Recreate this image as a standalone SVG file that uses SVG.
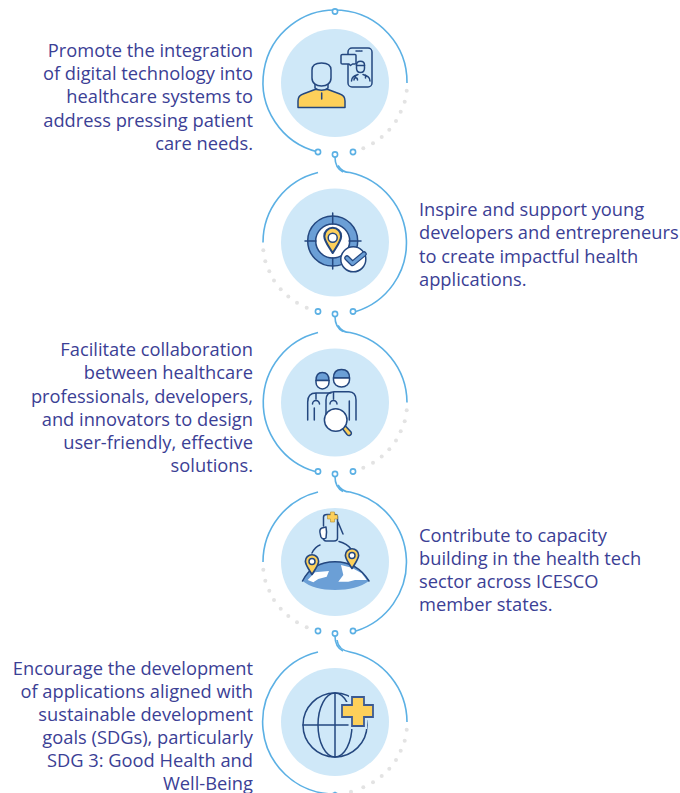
<svg xmlns="http://www.w3.org/2000/svg" xmlns:xlink="http://www.w3.org/1999/xlink" width="680" height="793" viewBox="0 0 680 793">
<style>
text{font-family:"Open Sans","Noto Sans",sans-serif;font-size:18.3px;fill:#3b4095}
.l{text-anchor:end}
.ring{fill:none;stroke:#5bb0e4;stroke-width:1.6}
.open{fill:#fff;stroke:#5bb0e4;stroke-width:1.6}
.disc{fill:#cfe8f8}
.d{fill:#e3e3e3}
.i{stroke:#24477f;stroke-width:1.5;stroke-linecap:round;stroke-linejoin:round;fill:none}
.w{fill:#fff}.b{fill:#6b9fd6}.y{fill:#fdd05a}.p{fill:#cfe8f8}
</style>
<defs>
<g id="dots"><circle class="d" cx="71.7" cy="7.7" r="2"/><circle class="d" cx="69.7" cy="18.7" r="2"/><circle class="d" cx="65.7" cy="28.7" r="2"/><circle class="d" cx="61" cy="38" r="2"/><circle class="d" cx="54.3" cy="46.7" r="2"/><circle class="d" cx="46.7" cy="54" r="2"/><circle class="d" cx="38" cy="60.3" r="2"/><circle class="d" cx="28.3" cy="65.3" r="2"/></g>
<g id="ends"><circle class="open" cx="-17" cy="69" r="2.6"/><circle class="open" cx="0" cy="71.5" r="2.6"/><circle class="open" cx="18" cy="69" r="2.6"/></g>
<path id="pin" d="M0,0C-3,-5 -6,-8.500 -6,-12A6,6 0 0 1 6,-12C6,-8.500 3,-5 0,0Z"/>
</defs>
<g id="connectors">
<g transform="translate(335,83)"><path class="ring" d="M-17,69A72,72 0 1 1 72,0"/><use href="#dots"/><use href="#ends"/><circle class="open" cx="0" cy="-71.500" r="2.600"/><path class="ring" d="M0,74C0,82 4,87 8,89"/></g>
<g transform="translate(335,242.500)"><path class="ring" d="M-17,-70A72,72 0 0 0 -72,0"/><path class="ring" d="M3,-77C6,-72 10,-70 15,-70A72,72 0 0 1 21,69"/><use href="#dots" transform="scale(-1,1)"/><use href="#ends"/><path class="ring" d="M0,74C0,82 4,87 8,89"/></g>
<g transform="translate(335,402.500)"><path class="ring" d="M-17,-70A72,72 0 0 0 -20,69"/><path class="ring" d="M3,-77C6,-72 10,-70 15,-70A72,72 0 0 1 72,0"/><use href="#dots"/><use href="#ends"/><path class="ring" d="M0,74C0,82 4,87 8,89"/></g>
<g transform="translate(335,562)"><path class="ring" d="M-17,-70A72,72 0 0 0 -72,0"/><path class="ring" d="M3,-77C6,-72 10,-70 15,-70A72,72 0 0 1 21,69"/><use href="#dots" transform="scale(-1,1)"/><use href="#ends"/><path class="ring" d="M0,74C0,82 4,87 8,89"/></g>
<g transform="translate(335,722)"><path class="ring" d="M-17,-70A72,72 0 0 0 -3,72L0,70.500L3,72"/><path class="ring" d="M2,-82C3,-74 9,-71 15,-70A72,72 0 0 1 72,0"/><use href="#dots"/><circle class="d" cx="16" cy="69.700" r="2"/></g>
</g>
<g id="node1"><circle class="disc" cx="335" cy="83" r="54"/>
<path class="i y" d="M298,107.500V101C298,97 300,95 303,94L315,89.500H328L340,94C343,95 345,97 345,101V107.500Z"/>
<path class="i" d="M321.700,93V99"/>
<path class="i p" d="M315,83V88C318,91 325,91 328,88V83Z"/>
<path class="i p" d="M312,70C312,65 316,63 321.500,63C327,63 331,65 331,70V78C331,83 327,86 321.500,86C316,86 312,83 312,78Z"/>
<rect class="i p" x="348" y="48" width="24" height="39" rx="4"/>
<path class="i" d="M356,51H362" stroke-dasharray="1.500 1" stroke-width="1"/>
<path class="i p" d="M342.500,54.500H355C355.500,54.500 356,55 356,55.500V63C356,63.500 355.500,64 355,64H352.500L350.500,65.500L349,64H342.500C342,64 341,63.500 341,63V55.500C341,55 342,54.500 342.500,54.500Z"/>
<path class="i" d="M356.500,65C356.500,60 364.500,60 364.500,65V68C364.500,74 356.500,74 356.500,68ZM356.300,65.500H364.700" stroke-width="1.200"/>
<path class="i" d="M351.500,81C351.500,77 354,76 358,74.500M370,81C370,77 367.500,76 363,74.500M355.500,75.500V77M354,80C354,77 357.500,77 357.500,80M365.500,75V78" stroke-width="1.200"/>
</g>
<g id="node2"><circle class="disc" cx="335" cy="242.500" r="54"/>
<circle class="i b" cx="332.700" cy="241" r="25"/><circle class="i w" cx="332.700" cy="241" r="17"/>
<path class="i" d="M332.700,213V224M332.700,258V269M305,241H316M349,241H361"/>
<use href="#pin" class="i y" transform="translate(332.700,253) scale(1.400)"/>
<circle class="i w" cx="332.700" cy="237.700" r="4.500"/>
<circle class="i w" cx="353.300" cy="259.300" r="12.500"/>
<path d="M347,258L352.500,263.500L364,254" fill="none" stroke="#24477f" stroke-width="5.500" stroke-linecap="round" stroke-linejoin="round"/>
<path d="M347,258L352.500,263.500L364,254" fill="none" stroke="#6b9fd6" stroke-width="3" stroke-linecap="round" stroke-linejoin="round"/>
</g>
<g id="node3"><circle class="disc" cx="335" cy="402.500" r="54"/>
<path class="i" d="M307.700,420V402Q307.700,393 316,393H331M314.300,408V420M316,393V399M312.500,404a3.500,3.500 0 0 1 7,0"/>
<path class="i b" d="M316,380.500C316,374 319,372.500 322.300,372.500C326,372.500 329,374 329,380.500Z"/>
<path class="i w" d="M316,380.500H329V382.500C329,386 326,389 322.300,389C319,389 316,386 316,382.500Z"/>
<path class="i" d="M326,420V400Q326,392 334,391.700H349Q356,392 356,400V420M349.300,401V420M333.500,392.500V399M330,404a3.500,3.500 0 0 1 7,0"/>
<path class="i b" d="M333.500,378C333.500,371 337,369.500 341.500,369.500C346,369.500 349.500,371 349.500,378Z"/>
<path class="i w" d="M333.500,378H349.500V380C349.500,384 346,387 341.500,387C337,387 333.500,384 333.500,380Z"/>
<path class="i y" d="M342,428L345,425.500L351,432C352,433.500 351,435 349.500,435.500C348.500,435.800 347.500,435 347,434.500Z"/>
<circle class="i w" cx="335.700" cy="420" r="11.300"/>
</g>
<g id="node4"><circle class="disc" cx="335" cy="562" r="54"/>
<path class="b" d="M302.500,581C309,568 321,561.700 335,561.700C349,561.700 361,568 369,581C361,587 349,590 335,590C321,590 310,587 302.500,581Z"/>
<path class="w" d="M307.700,580L315,572.300L329,571L326.700,576.700L318.300,579L313.300,582.300ZM338.300,581.700L343.300,575L341,565L351.700,567.700L361.700,573.300L366.700,580L355,580L348.300,581.700Z"/>
<path class="i" d="M302.500,581C309,568 321,561.700 335,561.700C349,561.700 361,568 369,581"/>
<path class="i" d="M312,553C314,549 317,546 320,545M339,541.500C343,542.500 348,545 351,549"/>
<use href="#pin" class="i y" transform="translate(312,574.500) scale(1.100)"/><circle class="i w" cx="312" cy="561.500" r="3"/>
<use href="#pin" class="i y" transform="translate(352,568.500) scale(1.100)"/><circle class="i w" cx="352" cy="555.500" r="3"/>
<path class="i" d="M323.500,526V517C323.500,515 325,514.500 327,514.500H335C336.500,514.500 337.500,515.500 337.500,517V538C337.500,540 336,541 334,541H326C324.500,541 323.500,540 323.500,538V535M338,522L343,534"/>
<path class="i w" d="M322,528L326,527C326.500,529 326.500,535 326,538C323,540 320.500,538 320.500,535C319.500,532 319.500,529 322,528Z"/>
<path d="M330.500,512H334.500V515H337.500V519H334.500V522H330.500V519H327.500V515H330.500Z" fill="#fdd05a" stroke="#b9983f" stroke-width=".7"/>
</g>
<g id="node5"><circle class="disc" cx="335" cy="722" r="54"/>
<circle class="i" cx="335" cy="725" r="32"/>
<ellipse class="i" cx="335" cy="725" rx="17" ry="32"/>
<path class="i" d="M335,693V757M303,725H348"/>
<path d="M352,697H364V705H373V717H364V726H352V717H342V705H352Z" class="y" stroke="#cfe8f8" stroke-width="6"/>
<path d="M352,697H364V705H373V717H364V726H352V717H342V705H352Z" class="y" stroke="#3b5a92" stroke-width="1.800"/>
</g>
<g id="labels">
<text class="l" x="253" y="57">Promote the integration</text>
<text class="l" x="253" y="80">of digital technology into</text>
<text class="l" x="253" y="103">healthcare systems to</text>
<text class="l" x="253" y="127">address pressing patient</text>
<text class="l" x="253" y="150">care needs.</text>
<text x="419" y="216">Inspire and support young</text>
<text x="419" y="239">developers and entrepreneurs</text>
<text x="419" y="263">to create impactful health</text>
<text x="419" y="286">applications.</text>
<text class="l" x="253" y="356">Facilitate collaboration</text>
<text class="l" x="253" y="379">between healthcare</text>
<text class="l" x="253" y="403">professionals, developers,</text>
<text class="l" x="253" y="426">and innovators to design</text>
<text class="l" x="253" y="449">user-friendly, effective</text>
<text class="l" x="253" y="472">solutions.</text>
<text x="419" y="542">Contribute to capacity</text>
<text x="419" y="565">building in the health tech</text>
<text x="419" y="588">sector across ICESCO</text>
<text x="419" y="611">member states.</text>
<text class="l" x="253" y="675">Encourage the development</text>
<text class="l" x="253" y="698">of applications aligned with</text>
<text class="l" x="253" y="721">sustainable development</text>
<text class="l" x="253" y="744">goals (SDGs), particularly</text>
<text class="l" x="253" y="767">SDG 3: Good Health and</text>
<text class="l" x="253" y="790">Well-Being</text>
</g>
</svg>
